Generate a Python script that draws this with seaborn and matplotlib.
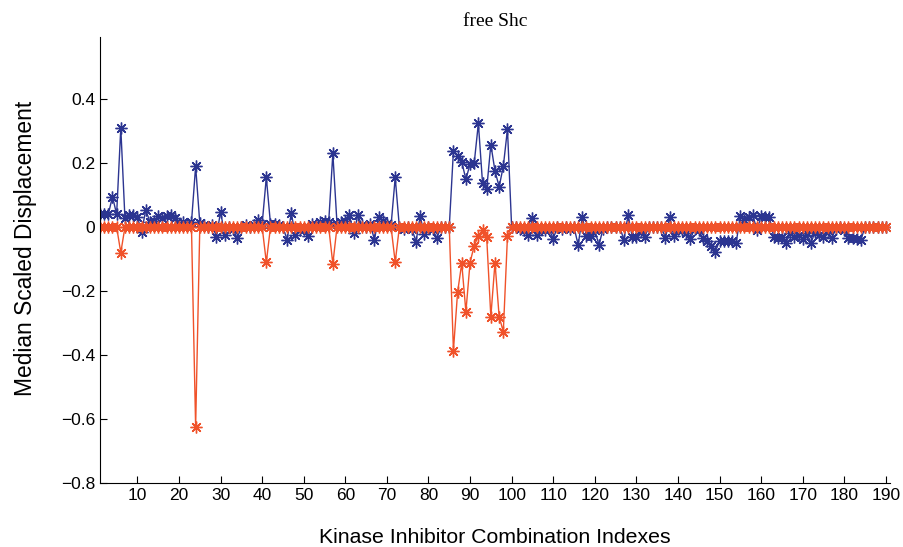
import numpy as np
import pandas as pd
import matplotlib
matplotlib.use("Agg")
import matplotlib.pyplot as plt
import seaborn as sns

# Combination indexes 1..190
indexes = list(range(1, 191))

# Blue series: median scaled displacement per combination
blue_values = [
    0.040, 0.040, 0.040, 0.095, 0.040, 0.310, 0.027, 0.037, 0.037, 0.032,
    -0.015, 0.053, 0.017, 0.020, 0.034, 0.027, 0.034, 0.037, 0.027, 0.011,
    0.017, 0.010, 0.015, 0.190, 0.012, 0.005, 0.000, 0.005, -0.030, 0.048,
    -0.025, 0.000, -0.005, -0.035, 0.000, 0.005, 0.000, 0.005, 0.022, 0.010,
    0.155, 0.010, 0.010, 0.005, 0.000, -0.040, 0.043, -0.025, -0.010, -0.005,
    -0.028, 0.010, 0.005, 0.017, 0.020, 0.015, 0.230, 0.010, 0.015, 0.020,
    0.037, -0.020, 0.037, 0.005, 0.000, 0.010, -0.040, 0.032, 0.020, 0.010,
    0.005, 0.155, 0.000, -0.005, 0.000, -0.005, -0.046, 0.034, -0.022, 0.000,
    -0.005, -0.035, 0.000, 0.000, 0.000, 0.238, 0.222, 0.204, 0.149, 0.197,
    0.200, 0.324, 0.138, 0.118, 0.258, 0.175, 0.126, 0.190, 0.306, 0.000,
    0.000, -0.005, -0.010, -0.025, 0.028, -0.025, -0.005, -0.010, -0.005, -0.037,
    0.000, -0.005, 0.000, -0.005, 0.000, -0.056, 0.032, -0.028, -0.027, -0.010,
    -0.056, -0.005, 0.000, 0.000, 0.000, 0.000, -0.040, 0.037, -0.030, -0.031,
    -0.010, -0.031, 0.000, 0.000, 0.000, 0.000, -0.035, 0.030, -0.028, -0.005,
    -0.010, -0.020, -0.038, -0.005, -0.010, -0.035, -0.045, -0.060, -0.077, -0.043,
    -0.043, -0.043, -0.045, -0.049, 0.034, 0.022, 0.030, 0.037, -0.009, 0.034,
    0.032, 0.032, -0.030, -0.035, -0.030, -0.049, -0.020, -0.030, -0.025, -0.038,
    -0.020, -0.049, -0.015, -0.025, -0.030, -0.010, -0.035, -0.005, 0.000, -0.010,
    -0.035, -0.035, -0.038, -0.039, 0.000, 0.000, 0.000, 0.000, 0.000, 0.000,
]

# Orange series: zero everywhere except at these combinations
orange_nonzero_idx = [6, 24, 41, 57, 72,
                      86, 87, 88, 89, 90, 91, 92, 93, 94, 95, 96, 97, 98, 99]
orange_nonzero_val = [-0.080, -0.625, -0.110, -0.115, -0.110,
                      -0.386, -0.204, -0.113, -0.265, -0.111, -0.058, -0.028,
                      -0.009, -0.032, -0.280, -0.111, -0.280, -0.327, -0.028]

y_ticks = [-0.8, -0.6, -0.4, -0.2, 0, 0.2, 0.4]
x_ticks = list(range(10, 191, 10))

orange_values = [0.0] * len(indexes)
for i, v in zip(orange_nonzero_idx, orange_nonzero_val):
    orange_values[i - 1] = v

df = pd.DataFrame({"index": indexes, "blue": blue_values, "orange": orange_values})

sns.set_style("ticks")
plt.rcParams["font.family"] = ["Liberation Sans", "DejaVu Sans"]
plt.rcParams["text.color"] = "black"
plt.rcParams["axes.labelcolor"] = "black"

fig = plt.figure(figsize=(9.04, 5.47), dpi=100)
ax = fig.add_axes([100 / 904, 64 / 547, 790 / 904, 446 / 547])

blue = "#2c3591"
orange = "#f0522a"
star = (8, 2, 0)

sns.lineplot(data=df, x="index", y="blue", ax=ax, color=blue, linewidth=1.0,
             marker=star, markersize=8.5, markeredgewidth=1.0,
             markeredgecolor=blue, markerfacecolor=blue)
sns.lineplot(data=df, x="index", y="orange", ax=ax, color=orange, linewidth=1.0,
             marker=star, markersize=8.5, markeredgewidth=1.0,
             markeredgecolor=orange, markerfacecolor=orange)

ax.set_xlim(1, 191)
ax.set_ylim(-0.8, 0.594)
ax.set_xticks(x_ticks)
ax.set_yticks(y_ticks)
ax.set_yticklabels([f"{t:.1f}".replace("-", "\u2212") if t != 0 else "0" for t in y_ticks])
ax.tick_params(direction="in", length=5, width=0.8, labelsize=12.5, colors="black")
for side in ("top", "right"):
    ax.spines[side].set_visible(False)
for side in ("left", "bottom"):
    ax.spines[side].set_linewidth(0.8)
    ax.spines[side].set_color("black")

ax.set_xlabel("Kinase Inhibitor Combination Indexes", fontsize=15.3, labelpad=18, color="black")
ax.set_ylabel("Median Scaled Displacement", fontsize=16.4, labelpad=17, color="black")
ax.yaxis.label.set_y(0.527)
ax.set_title("free Shc", fontsize=14, family=["Liberation Serif", "DejaVu Serif"],
             pad=8, color="black")

fig.savefig("out.png", dpi=100)
